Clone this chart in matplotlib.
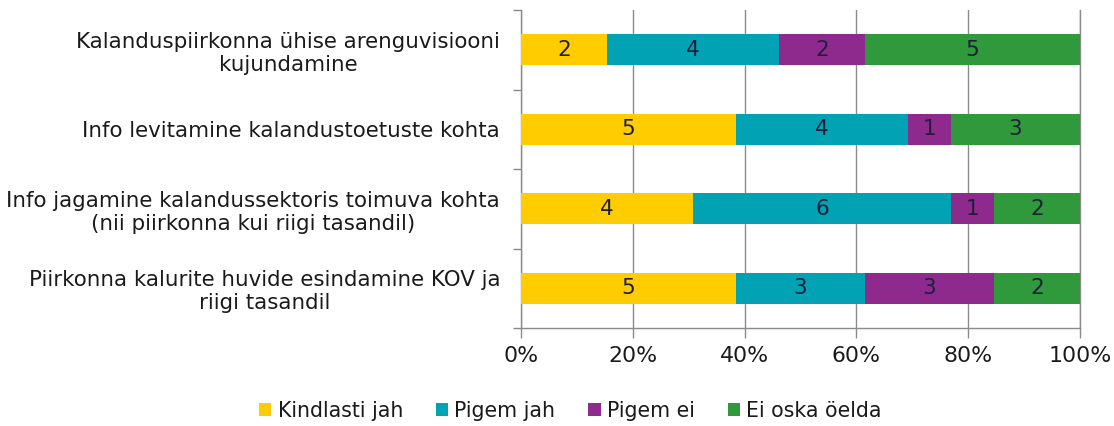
import matplotlib
matplotlib.use("Agg")
import matplotlib.pyplot as plt
import numpy as np
from matplotlib.ticker import FixedLocator, PercentFormatter

categories = [
    "Kalanduspiirkonna ühise arenguvisiooni\nkujundamine",
    "Info levitamine kalandustoetuste kohta",
    "Info jagamine kalandussektoris toimuva kohta\n(nii piirkonna kui riigi tasandil)",
    "Piirkonna kalurite huvide esindamine KOV ja\nriigi tasandil",
]
series_names = ["Kindlasti jah", "Pigem jah", "Pigem ei", "Ei oska öelda"]
kindlasti_jah = [2, 5, 4, 5]
pigem_jah = [4, 4, 6, 3]
pigem_ei = [2, 1, 1, 3]
ei_oska = [5, 3, 2, 2]
colors = ["#FFCC00", "#00A2B4", "#8E2A8E", "#2F993C"]
xticks = [0, 20, 40, 60, 80, 100]

series = [kindlasti_jah, pigem_jah, pigem_ei, ei_oska]
totals = np.sum(np.array(series), axis=0)

fig = plt.figure(figsize=(11.14, 4.26), dpi=100)
ax = fig.add_axes([0.4677, 0.23, 0.9695 - 0.4677, 0.9765 - 0.23])

y = np.arange(len(categories))
left = np.zeros(len(categories))
txtcol = "#1F1F3A"
for name, vals, c in zip(series_names, series, colors):
    pct = np.array(vals) / totals * 100
    ax.barh(y, pct, left=left, height=0.39, color=c, label=name, zorder=3)
    for yi, l, p, v in zip(y, left, pct, vals):
        ax.text(l + p / 2, yi, str(v), ha="center", va="center",
                fontsize=15.5, color=txtcol, zorder=4)
    left += pct

ax.set_xlim(0, 100)
ax.set_ylim(len(categories) - 0.5, -0.5)
ax.xaxis.set_major_locator(FixedLocator(xticks))
ax.xaxis.set_major_formatter(PercentFormatter(decimals=0))
ax.grid(axis="x", color="#8A8A8A", linewidth=1.0, zorder=0)

ax.set_yticks(y)
ax.set_yticklabels(categories, fontsize=15.4, color="#1a1a1a", multialignment="center")
ax.tick_params(axis="y", length=0, pad=15)
ax.set_yticks(np.arange(-0.5, len(categories)), minor=True)
ax.tick_params(axis="y", which="minor", length=6, color="#8A8A8A", width=1)
ax.tick_params(axis="x", length=7, color="#8A8A8A", width=1, labelsize=15.8,
               labelcolor="#1a1a1a", pad=6)

ax.spines["top"].set_visible(False)
for s in ["left", "bottom", "right"]:
    ax.spines[s].set_color("#8A8A8A")
    ax.spines[s].set_linewidth(1.0)

leg = fig.legend(loc="center", bbox_to_anchor=(0.512, 0.035), ncol=4, frameon=False,
                 fontsize=14.8, handlelength=0.6, handleheight=0.6,
                 handletextpad=0.3, columnspacing=1.6)
for t in leg.get_texts():
    t.set_color("#1a1a1a")

fig.savefig("out.png", dpi=100)
